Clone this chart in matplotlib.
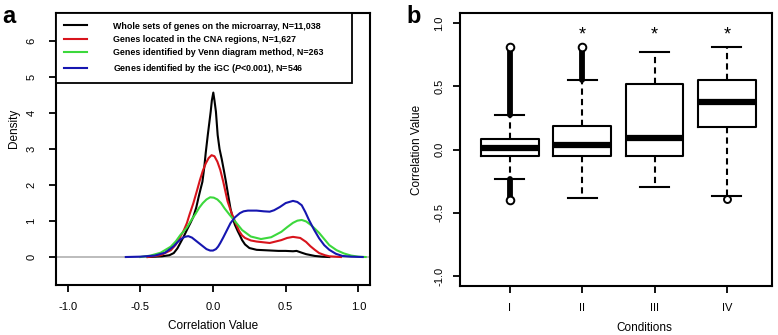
"""Density of correlation values (a) and boxplots by condition (b)."""
import matplotlib
matplotlib.use("Agg")
import matplotlib.pyplot as plt
from matplotlib.lines import Line2D

plt.rcParams["font.family"] = ["Liberation Sans", "DejaVu Sans"]
plt.rcParams["mathtext.fontset"] = "custom"
plt.rcParams["mathtext.bfit"] = "Liberation Sans:italic:bold"

# ---- panel a : density curves ----
black_x = [-0.45, -0.35, -0.30, -0.27, -0.245, -0.225, -0.20, -0.18, -0.155, -0.135, -0.115,
           -0.10, -0.085, -0.073, -0.06, -0.05, -0.036, -0.016, -0.008, 0.002, 0.01, 0.02,
           0.032, 0.045, 0.06, 0.075, 0.089, 0.105, 0.12, 0.135, 0.15, 0.17, 0.185, 0.20,
           0.22, 0.25, 0.30, 0.35, 0.40, 0.45, 0.50, 0.55, 0.575, 0.61, 0.64, 0.70, 0.75, 0.80]
black_y = [0.0, 0.02, 0.05, 0.11, 0.24, 0.39, 0.58, 0.75, 0.95, 1.12, 1.38,
           1.65, 1.9, 2.09, 2.5, 2.9, 3.39, 4.04, 4.35, 4.57, 4.35, 4.04,
           3.39, 3.0, 2.72, 2.4, 2.09, 1.7, 1.35, 1.1, 0.9, 0.72, 0.6, 0.47,
           0.35, 0.25, 0.20, 0.19, 0.18, 0.17, 0.17, 0.16, 0.17, 0.12, 0.08, 0.03, 0.01, 0.0]

red_x = [-0.45, -0.36, -0.29, -0.255, -0.225, -0.20, -0.18, -0.16, -0.135, -0.11, -0.09,
         -0.07, -0.05, -0.03, -0.01, 0.01, 0.03, 0.05, 0.07, 0.10, 0.125, 0.15, 0.18, 0.20,
         0.22, 0.26, 0.30, 0.39, 0.47, 0.51, 0.55, 0.60, 0.64, 0.67, 0.70, 0.73, 0.77, 0.80, 0.88]
red_y = [0.0, 0.05, 0.19, 0.35, 0.56, 0.75, 0.94, 1.2, 1.5, 1.85, 2.14,
         2.4, 2.6, 2.75, 2.83, 2.8, 2.65, 2.42, 2.1, 1.55, 1.25, 1.0, 0.72, 0.6,
         0.53, 0.46, 0.43, 0.39, 0.47, 0.53, 0.56, 0.53, 0.42, 0.3, 0.2, 0.11, 0.05, 0.02, 0.0]

green_x = [-0.50, -0.43, -0.36, -0.29, -0.255, -0.225, -0.20, -0.18, -0.15, -0.12, -0.095,
           -0.07, -0.045, -0.02, 0.005, 0.03, 0.055, 0.08, 0.115, 0.15, 0.20, 0.26, 0.33,
           0.40, 0.47, 0.51, 0.55, 0.58, 0.61, 0.64, 0.67, 0.70, 0.73, 0.765, 0.80, 0.85,
           0.90, 0.95, 1.00, 1.05]
green_y = [0.0, 0.04, 0.12, 0.29, 0.44, 0.61, 0.72, 0.82, 1.02, 1.2, 1.37,
           1.5, 1.6, 1.66, 1.65, 1.6, 1.5, 1.35, 1.17, 1.0, 0.75, 0.57, 0.50,
           0.55, 0.70, 0.83, 0.95, 1.01, 1.03, 0.99, 0.90, 0.79, 0.67, 0.50, 0.33, 0.19,
           0.10, 0.04, 0.01, 0.0]

blue_x = [-0.60, -0.50, -0.40, -0.33, -0.27, -0.245, -0.22, -0.195, -0.17, -0.145, -0.12,
          -0.095, -0.07, -0.045, -0.02, 0.0, 0.02, 0.035, 0.05, 0.07, 0.09, 0.12, 0.15,
          0.185, 0.21, 0.24, 0.30, 0.35, 0.39, 0.42, 0.46, 0.50, 0.55, 0.58, 0.61, 0.635,
          0.66, 0.695, 0.73, 0.765, 0.80, 0.845, 0.89, 0.95, 1.03]
blue_y = [0.0, 0.01, 0.04, 0.12, 0.30, 0.41, 0.50, 0.56, 0.58, 0.54, 0.46,
          0.38, 0.30, 0.22, 0.18, 0.18, 0.22, 0.29, 0.39, 0.54, 0.70, 0.94, 1.1,
          1.22, 1.27, 1.29, 1.29, 1.27, 1.26, 1.3, 1.39, 1.5, 1.56, 1.53, 1.44, 1.25,
          1.03, 0.76, 0.52, 0.33, 0.20, 0.09, 0.03, 0.01, 0.0]

legend_labels = [
    "Whole sets of genes on the microarray, N=11,038",
    "Genes located in the CNA regions, N=1,627",
    "Genes identified by Venn diagram method, N=263",
    "Genes identified by the iGC ($\\mathbfit{P}$<0.001), N=546",
]
curve_colors = ["black", "#d8141c", "#3cd83c", "#1616b0"]

# ---- panel b : boxplot statistics ----
conditions = ["I", "II", "III", "IV"]
whisker_lo = [-0.23, -0.38, -0.30, -0.37]
q1 = [-0.05, -0.05, -0.05, 0.18]
median = [0.015, 0.035, 0.09, 0.38]
q3 = [0.08, 0.19, 0.52, 0.55]
whisker_hi = [0.27, 0.55, 0.77, 0.81]
# dense runs of outliers (condition index, lowest, highest)
outlier_runs = [(1, 0.27, 0.81), (1, -0.40, -0.23), (2, 0.55, 0.81)]
single_outliers = [(4, -0.39)]
significant = [False, True, True, True]

fig = plt.figure(figsize=(7.78, 3.35), dpi=100)
ax_a = fig.add_axes([0.072, 0.149, 0.4036, 0.812])
ax_b = fig.add_axes([0.591, 0.146, 0.401, 0.815])

# panel a
ax_a.axhline(0, color="#b0b0b0", lw=1.2, zorder=1)
curves = [(black_x, black_y), (red_x, red_y), (green_x, green_y), (blue_x, blue_y)]
for (xs, ys), col in zip(curves, curve_colors):
    ax_a.plot(xs, ys, color=col, lw=1.5, zorder=2, solid_joinstyle="round")
ax_a.set_xlim(-1.08, 1.08)
ax_a.set_ylim(-0.78, 6.78)
ax_a.set_xticks([-1.0, -0.5, 0.0, 0.5, 1.0])
ax_a.set_xticklabels(["-1.0", "-0.5", "0.0", "0.5", "1.0"])
ax_a.set_yticks(range(0, 7))
ax_a.set_xlabel("Correlation Value", fontsize=8.5)
ax_a.set_ylabel("Density", fontsize=8.5)
ax_a.xaxis.set_label_coords(0.5, -0.13)
ax_a.yaxis.set_label_coords(-0.115, 0.577)

handles = [Line2D([], [], color=c, lw=1.5) for c in curve_colors]
leg = ax_a.legend(handles, legend_labels, loc="upper left", bbox_to_anchor=(0, 0, 0.943, 1),
                  mode="expand", borderaxespad=0, fancybox=False, framealpha=1,
                  edgecolor="black", handlelength=2.5, handletextpad=3.0,
                  labelspacing=0.5, borderpad=0.95,
                  prop={"weight": "bold", "size": 6.4})
leg.get_frame().set_linewidth(1.3)
fig.text(0.003, 0.985, "a", fontsize=17, fontweight="bold", va="top", ha="left")

# panel b
stats = []
for i in range(len(conditions)):
    stats.append({"whislo": whisker_lo[i], "q1": q1[i], "med": median[i],
                  "q3": q3[i], "whishi": whisker_hi[i], "fliers": []})
positions = list(range(1, len(conditions) + 1))
ax_b.bxp(stats, positions=positions, widths=0.8, capwidths=0.4, showfliers=False,
         boxprops={"lw": 1.5, "color": "black"},
         medianprops={"lw": 4.5, "color": "black", "solid_capstyle": "butt"},
         whiskerprops={"lw": 1.5, "ls": (0, (3, 2)), "color": "black"},
         capprops={"lw": 1.5, "color": "black"})
for pos, lo, hi in outlier_runs:
    ax_b.plot([pos, pos], [lo, hi], color="black", lw=4.2, solid_capstyle="round", zorder=3)
    ax_b.plot([pos], [hi if hi > 0.5 else lo], marker="o", ms=5.5, mfc="white",
              mec="black", mew=1.4, zorder=4)
for pos, val in single_outliers:
    ax_b.plot([pos], [val], marker="o", ms=5, mfc="white", mec="black", mew=1.4, zorder=4)
for pos, sig in zip(positions, significant):
    if sig:
        ax_b.text(pos, 0.91, "*", ha="center", va="center", fontsize=13)
ax_b.set_xlim(0.31, 4.62)
ax_b.set_ylim(-1.08, 1.08)
ax_b.set_xticks(positions)
ax_b.set_xticklabels(conditions)
ax_b.set_yticks([-1.0, -0.5, 0.0, 0.5, 1.0])
ax_b.set_yticklabels(["-1.0", "-0.5", "0.0", "0.5", "1.0"])
ax_b.set_xlabel("Conditions", fontsize=8.5)
ax_b.set_ylabel("Correlation Value", fontsize=8.5)
ax_b.xaxis.set_label_coords(0.593, -0.132)
ax_b.yaxis.set_label_coords(-0.119, 0.5)
fig.text(0.522, 0.985, "b", fontsize=17, fontweight="bold", va="top", ha="left")

for ax, ypad in ((ax_a, 9), (ax_b, 6)):
    for sp in ax.spines.values():
        sp.set_linewidth(1.5)
    ax.tick_params(axis="both", direction="out", length=5, width=1.3, labelsize=8)
    ax.tick_params(axis="x", pad=7)
    ax.tick_params(axis="y", pad=ypad, labelrotation=90)
    for lab in ax.get_yticklabels():
        lab.set_va("center")

fig.savefig("out.png", dpi=100)
